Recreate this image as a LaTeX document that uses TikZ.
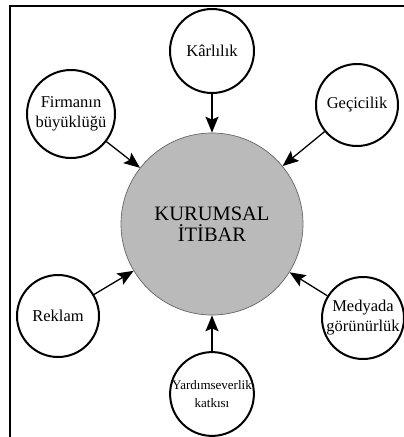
\documentclass[tikz,border=0pt]{standalone}
\usepackage{fontspec}
\setmainfont{Liberation Serif}
\usetikzlibrary{arrows.meta}
\begin{document}
\begin{tikzpicture}[x=1pt,y=-1pt,
  factor/.style={circle, draw=black, line width=2pt, fill=white,
    inner sep=0pt, align=center, font=\fontsize{16.5}{20}\selectfont},
  core/.style={circle, draw=black!60, line width=0.7pt, fill=black!27,
    inner sep=0pt, align=center, font=\fontsize{20.5}{21}\selectfont},
  influence/.style={line width=1.3pt,
    -{Stealth[length=16pt,width=13pt,inset=3pt]}},
  frameline/.style={line width=2pt}]
\useasboundingbox (0,0) rectangle (404,437);

% frame lines along the top and left edges
\coordinate (tl) at (10,6);
\coordinate (tr) at (404,6);
\coordinate (bl) at (10,437);
\draw[frameline] (bl) -- (tl) -- (tr);

% central concept
\node[core, minimum size=182pt] (itibar) at (212,224) {KURUMSAL\\İTİBAR};

% contributing factors
\node[factor, minimum size=84pt] (karlilik) at (212,51) {Kârlılık};
\node[factor, minimum size=88pt] (firma) at (71,114) {Firmanın\\büyüklüğü};
\node[factor, minimum size=82pt] (gecici) at (357,105) {Geçicilik};
\node[factor, minimum size=82pt] (reklam) at (58,316) {Reklam};
\node[factor, minimum size=82pt] (medya) at (363,318) {Medyada\\görünürlük};
\node[factor, minimum size=83pt, font=\fontsize{13}{18}\selectfont] (yardim) at (212,394) {Yardımseverlik\\katkısı};

% influences on corporate reputation
\foreach \src in {karlilik, firma, gecici, reklam, medya, yardim}
  \draw[influence] (\src) -- (itibar);
\end{tikzpicture}
\end{document}
